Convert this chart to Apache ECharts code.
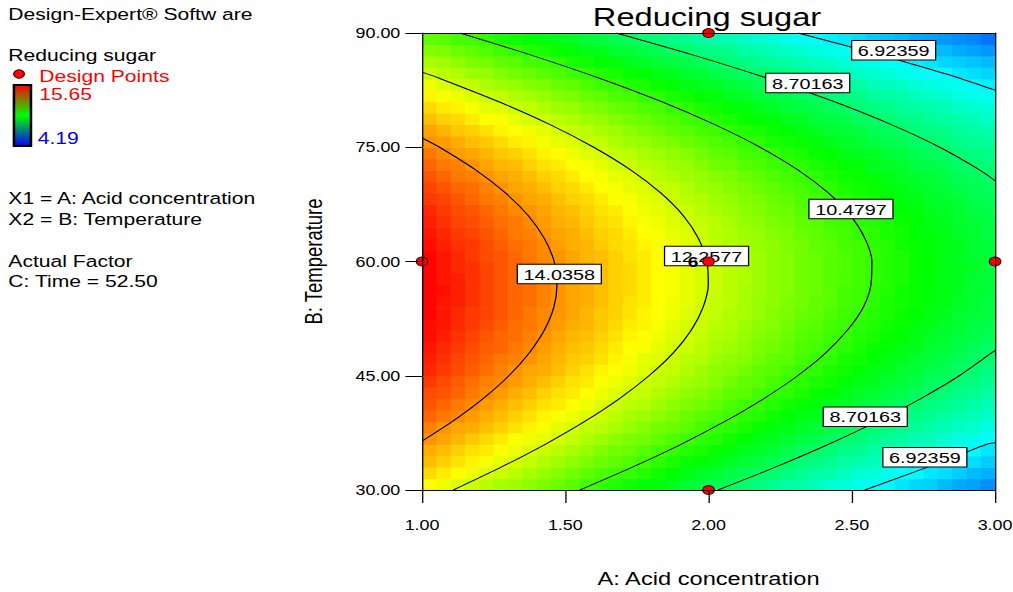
<!DOCTYPE html>
<html>
<head>
<meta charset="utf-8">
<title>Reducing sugar</title>
<script src="https://cdn.jsdelivr.net/npm/echarts@6.0.0/dist/echarts.min.js"></script>
<style>
  html, body { margin: 0; padding: 0; background: #ffffff; overflow: hidden; }
  #stage { width: 1013px; height: 592px; overflow: hidden; }
  /* Design-Expert exports are horizontally widened; the drawing is laid out narrow and stretched */
  #chart { width: 792px; height: 592px; transform: scaleX(1.279); transform-origin: 0 0; }
</style>
</head>
<body>
<div id="stage"><div id="chart"></div></div>
<script>
// ---- factor grid (cell centres) ----
const acidCenters = [1.025,1.075,1.125,1.175,1.225,1.275,1.325,1.375,1.425,1.475,
                     1.525,1.575,1.625,1.675,1.725,1.775,1.825,1.875,1.925,1.975,
                     2.025,2.075,2.125,2.175,2.225,2.275,2.325,2.375,2.425,2.475,
                     2.525,2.575,2.625,2.675,2.725,2.775,2.825,2.875,2.925,2.975];
const tempCenters = [30.75,32.25,33.75,35.25,36.75,38.25,39.75,41.25,42.75,44.25,
                     45.75,47.25,48.75,50.25,51.75,53.25,54.75,56.25,57.75,59.25,
                     60.75,62.25,63.75,65.25,66.75,68.25,69.75,71.25,72.75,74.25,
                     75.75,77.25,78.75,80.25,81.75,83.25,84.75,86.25,87.75,89.25];

// predicted reducing sugar, one row per temperature (low -> high), columns by acid concentration
const sugarGrid = [
  [12.8,12.6,12.4,12.2,12.0,11.8,11.7,11.5,11.3,11.1,10.9,10.7,10.5,10.3,10.1,9.9,9.8,9.6,9.4,9.2,9.0,8.9,8.7,8.5,8.3,8.1,8.0,7.8,7.6,7.5,7.3,7.1,7.0,6.8,6.6,6.5,6.3,6.1,6.0,5.8],
  [13.2,13.0,12.8,12.6,12.4,12.2,12.0,11.8,11.6,11.4,11.2,11.0,10.8,10.6,10.5,10.3,10.1,9.9,9.7,9.5,9.4,9.2,9.0,8.8,8.7,8.5,8.3,8.1,8.0,7.8,7.6,7.5,7.3,7.1,7.0,6.8,6.7,6.5,6.3,6.2],
  [13.5,13.3,13.1,12.9,12.7,12.5,12.3,12.1,11.9,11.7,11.5,11.3,11.1,11.0,10.8,10.6,10.4,10.2,10.0,9.9,9.7,9.5,9.3,9.2,9.0,8.8,8.6,8.5,8.3,8.1,8.0,7.8,7.6,7.5,7.3,7.1,7.0,6.8,6.7,6.5],
  [13.7,13.5,13.3,13.1,13.0,12.8,12.6,12.4,12.2,12.0,11.8,11.6,11.4,11.2,11.1,10.9,10.7,10.5,10.3,10.2,10.0,9.8,9.6,9.5,9.3,9.1,8.9,8.8,8.6,8.4,8.3,8.1,7.9,7.8,7.6,7.5,7.3,7.1,7.0,6.8],
  [14.0,13.8,13.6,13.4,13.2,13.0,12.8,12.6,12.5,12.3,12.1,11.9,11.7,11.5,11.3,11.2,11.0,10.8,10.6,10.4,10.3,10.1,9.9,9.7,9.6,9.4,9.2,9.1,8.9,8.7,8.6,8.4,8.2,8.1,7.9,7.8,7.6,7.4,7.3,7.1],
  [14.2,14.0,13.8,13.7,13.5,13.3,13.1,12.9,12.7,12.5,12.3,12.1,12.0,11.8,11.6,11.4,11.2,11.1,10.9,10.7,10.5,10.4,10.2,10.0,9.8,9.7,9.5,9.3,9.2,9.0,8.8,8.7,8.5,8.3,8.2,8.0,7.9,7.7,7.6,7.4],
  [14.5,14.3,14.1,13.9,13.7,13.5,13.3,13.1,12.9,12.7,12.6,12.4,12.2,12.0,11.8,11.7,11.5,11.3,11.1,10.9,10.8,10.6,10.4,10.3,10.1,9.9,9.7,9.6,9.4,9.3,9.1,8.9,8.8,8.6,8.4,8.3,8.1,8.0,7.8,7.7],
  [14.7,14.5,14.3,14.1,13.9,13.7,13.5,13.3,13.1,13.0,12.8,12.6,12.4,12.2,12.0,11.9,11.7,11.5,11.3,11.2,11.0,10.8,10.6,10.5,10.3,10.1,10.0,9.8,9.6,9.5,9.3,9.2,9.0,8.8,8.7,8.5,8.4,8.2,8.1,7.9],
  [14.8,14.7,14.5,14.3,14.1,13.9,13.7,13.5,13.3,13.1,13.0,12.8,12.6,12.4,12.2,12.1,11.9,11.7,11.5,11.4,11.2,11.0,10.9,10.7,10.5,10.4,10.2,10.0,9.9,9.7,9.5,9.4,9.2,9.1,8.9,8.7,8.6,8.4,8.3,8.1],
  [15.0,14.8,14.6,14.4,14.2,14.1,13.9,13.7,13.5,13.3,13.1,13.0,12.8,12.6,12.4,12.2,12.1,11.9,11.7,11.6,11.4,11.2,11.0,10.9,10.7,10.5,10.4,10.2,10.1,9.9,9.7,9.6,9.4,9.3,9.1,8.9,8.8,8.6,8.5,8.3],
  [15.2,15.0,14.8,14.6,14.4,14.2,14.0,13.8,13.7,13.5,13.3,13.1,12.9,12.8,12.6,12.4,12.2,12.1,11.9,11.7,11.5,11.4,11.2,11.0,10.9,10.7,10.5,10.4,10.2,10.1,9.9,9.7,9.6,9.4,9.3,9.1,9.0,8.8,8.7,8.5],
  [15.3,15.1,14.9,14.7,14.5,14.3,14.2,14.0,13.8,13.6,13.4,13.3,13.1,12.9,12.7,12.5,12.4,12.2,12.0,11.9,11.7,11.5,11.4,11.2,11.0,10.9,10.7,10.5,10.4,10.2,10.1,9.9,9.7,9.6,9.4,9.3,9.1,9.0,8.8,8.7],
  [15.4,15.2,15.0,14.8,14.6,14.5,14.3,14.1,13.9,13.7,13.5,13.4,13.2,13.0,12.8,12.7,12.5,12.3,12.2,12.0,11.8,11.7,11.5,11.3,11.2,11.0,10.8,10.7,10.5,10.4,10.2,10.0,9.9,9.7,9.6,9.4,9.3,9.1,9.0,8.8],
  [15.5,15.3,15.1,14.9,14.7,14.5,14.4,14.2,14.0,13.8,13.6,13.5,13.3,13.1,12.9,12.8,12.6,12.4,12.3,12.1,11.9,11.8,11.6,11.4,11.3,11.1,10.9,10.8,10.6,10.5,10.3,10.2,10.0,9.9,9.7,9.5,9.4,9.3,9.1,9.0],
  [15.5,15.4,15.2,15.0,14.8,14.6,14.4,14.3,14.1,13.9,13.7,13.6,13.4,13.2,13.0,12.9,12.7,12.5,12.3,12.2,12.0,11.9,11.7,11.5,11.4,11.2,11.0,10.9,10.7,10.6,10.4,10.3,10.1,10.0,9.8,9.7,9.5,9.4,9.2,9.1],
  [15.6,15.4,15.2,15.0,14.9,14.7,14.5,14.3,14.1,14.0,13.8,13.6,13.4,13.3,13.1,12.9,12.8,12.6,12.4,12.2,12.1,11.9,11.8,11.6,11.4,11.3,11.1,11.0,10.8,10.6,10.5,10.3,10.2,10.0,9.9,9.7,9.6,9.4,9.3,9.2],
  [15.6,15.4,15.3,15.1,14.9,14.7,14.5,14.4,14.2,14.0,13.8,13.7,13.5,13.3,13.1,13.0,12.8,12.6,12.5,12.3,12.1,12.0,11.8,11.6,11.5,11.3,11.2,11.0,10.9,10.7,10.6,10.4,10.2,10.1,10.0,9.8,9.7,9.5,9.4,9.2],
  [15.6,15.5,15.3,15.1,14.9,14.7,14.5,14.4,14.2,14.0,13.8,13.7,13.5,13.3,13.2,13.0,12.8,12.7,12.5,12.3,12.2,12.0,11.8,11.7,11.5,11.4,11.2,11.1,10.9,10.7,10.6,10.4,10.3,10.1,10.0,9.8,9.7,9.6,9.4,9.3],
  [15.6,15.4,15.3,15.1,14.9,14.7,14.5,14.4,14.2,14.0,13.8,13.7,13.5,13.3,13.2,13.0,12.8,12.7,12.5,12.3,12.2,12.0,11.9,11.7,11.5,11.4,11.2,11.1,10.9,10.8,10.6,10.5,10.3,10.2,10.0,9.9,9.7,9.6,9.4,9.3],
  [15.6,15.4,15.2,15.1,14.9,14.7,14.5,14.4,14.2,14.0,13.8,13.7,13.5,13.3,13.2,13.0,12.8,12.7,12.5,12.3,12.2,12.0,11.9,11.7,11.5,11.4,11.2,11.1,10.9,10.8,10.6,10.5,10.3,10.2,10.0,9.9,9.7,9.6,9.5,9.3],
  [15.6,15.4,15.2,15.0,14.8,14.7,14.5,14.3,14.1,14.0,13.8,13.6,13.5,13.3,13.1,13.0,12.8,12.6,12.5,12.3,12.1,12.0,11.8,11.7,11.5,11.4,11.2,11.1,10.9,10.8,10.6,10.5,10.3,10.2,10.0,9.9,9.7,9.6,9.4,9.3],
  [15.5,15.3,15.1,15.0,14.8,14.6,14.4,14.3,14.1,13.9,13.7,13.6,13.4,13.2,13.1,12.9,12.7,12.6,12.4,12.3,12.1,11.9,11.8,11.6,11.5,11.3,11.2,11.0,10.9,10.7,10.6,10.4,10.3,10.1,10.0,9.8,9.7,9.6,9.4,9.3],
  [15.4,15.2,15.0,14.9,14.7,14.5,14.3,14.2,14.0,13.8,13.7,13.5,13.3,13.2,13.0,12.8,12.7,12.5,12.4,12.2,12.0,11.9,11.7,11.6,11.4,11.3,11.1,11.0,10.8,10.7,10.5,10.4,10.2,10.1,9.9,9.8,9.7,9.5,9.4,9.2],
  [15.3,15.1,14.9,14.8,14.6,14.4,14.3,14.1,13.9,13.7,13.6,13.4,13.2,13.1,12.9,12.7,12.6,12.4,12.3,12.1,12.0,11.8,11.6,11.5,11.3,11.2,11.0,10.9,10.7,10.6,10.4,10.3,10.2,10.0,9.9,9.7,9.6,9.4,9.3,9.2],
  [15.2,15.0,14.8,14.7,14.5,14.3,14.1,14.0,13.8,13.6,13.5,13.3,13.1,13.0,12.8,12.6,12.5,12.3,12.2,12.0,11.8,11.7,11.5,11.4,11.2,11.1,10.9,10.8,10.6,10.5,10.3,10.2,10.1,9.9,9.8,9.6,9.5,9.4,9.2,9.1],
  [15.0,14.9,14.7,14.5,14.3,14.2,14.0,13.8,13.7,13.5,13.3,13.2,13.0,12.8,12.7,12.5,12.4,12.2,12.0,11.9,11.7,11.6,11.4,11.3,11.1,11.0,10.8,10.7,10.5,10.4,10.2,10.1,9.9,9.8,9.7,9.5,9.4,9.3,9.1,9.0],
  [14.9,14.7,14.5,14.4,14.2,14.0,13.8,13.7,13.5,13.3,13.2,13.0,12.8,12.7,12.5,12.4,12.2,12.1,11.9,11.7,11.6,11.4,11.3,11.1,11.0,10.8,10.7,10.5,10.4,10.2,10.1,10.0,9.8,9.7,9.5,9.4,9.3,9.1,9.0,8.9],
  [14.7,14.5,14.3,14.2,14.0,13.8,13.7,13.5,13.3,13.2,13.0,12.8,12.7,12.5,12.4,12.2,12.0,11.9,11.7,11.6,11.4,11.3,11.1,11.0,10.8,10.7,10.5,10.4,10.2,10.1,10.0,9.8,9.7,9.5,9.4,9.3,9.1,9.0,8.9,8.7],
  [14.5,14.3,14.2,14.0,13.8,13.6,13.5,13.3,13.1,13.0,12.8,12.7,12.5,12.3,12.2,12.0,11.9,11.7,11.6,11.4,11.2,11.1,10.9,10.8,10.6,10.5,10.4,10.2,10.1,9.9,9.8,9.6,9.5,9.4,9.2,9.1,9.0,8.8,8.7,8.6],
  [14.3,14.1,13.9,13.8,13.6,13.4,13.3,13.1,12.9,12.8,12.6,12.4,12.3,12.1,12.0,11.8,11.7,11.5,11.4,11.2,11.0,10.9,10.7,10.6,10.5,10.3,10.2,10.0,9.9,9.7,9.6,9.5,9.3,9.2,9.0,8.9,8.8,8.6,8.5,8.4],
  [14.0,13.9,13.7,13.5,13.4,13.2,13.0,12.9,12.7,12.5,12.4,12.2,12.1,11.9,11.7,11.6,11.4,11.3,11.1,11.0,10.8,10.7,10.5,10.4,10.2,10.1,10.0,9.8,9.7,9.5,9.4,9.2,9.1,9.0,8.8,8.7,8.6,8.4,8.3,8.2],
  [13.8,13.6,13.4,13.3,13.1,12.9,12.8,12.6,12.5,12.3,12.1,12.0,11.8,11.7,11.5,11.3,11.2,11.0,10.9,10.7,10.6,10.4,10.3,10.2,10.0,9.9,9.7,9.6,9.4,9.3,9.2,9.0,8.9,8.8,8.6,8.5,8.4,8.2,8.1,8.0],
  [13.5,13.3,13.2,13.0,12.8,12.7,12.5,12.3,12.2,12.0,11.9,11.7,11.6,11.4,11.2,11.1,10.9,10.8,10.6,10.5,10.3,10.2,10.0,9.9,9.8,9.6,9.5,9.3,9.2,9.1,8.9,8.8,8.6,8.5,8.4,8.2,8.1,8.0,7.9,7.7],
  [13.2,13.0,12.9,12.7,12.5,12.4,12.2,12.1,11.9,11.7,11.6,11.4,11.3,11.1,11.0,10.8,10.7,10.5,10.4,10.2,10.1,9.9,9.8,9.6,9.5,9.3,9.2,9.1,8.9,8.8,8.6,8.5,8.4,8.2,8.1,8.0,7.9,7.7,7.6,7.5],
  [12.9,12.7,12.6,12.4,12.2,12.1,11.9,11.8,11.6,11.4,11.3,11.1,11.0,10.8,10.7,10.5,10.4,10.2,10.1,9.9,9.8,9.6,9.5,9.3,9.2,9.1,8.9,8.8,8.6,8.5,8.4,8.2,8.1,8.0,7.8,7.7,7.6,7.4,7.3,7.2],
  [12.6,12.4,12.2,12.1,11.9,11.7,11.6,11.4,11.3,11.1,11.0,10.8,10.6,10.5,10.3,10.2,10.0,9.9,9.7,9.6,9.5,9.3,9.2,9.0,8.9,8.7,8.6,8.5,8.3,8.2,8.1,7.9,7.8,7.7,7.5,7.4,7.3,7.2,7.0,6.9],
  [12.2,12.0,11.9,11.7,11.6,11.4,11.2,11.1,10.9,10.8,10.6,10.5,10.3,10.2,10.0,9.9,9.7,9.6,9.4,9.3,9.1,9.0,8.8,8.7,8.6,8.4,8.3,8.1,8.0,7.9,7.7,7.6,7.5,7.3,7.2,7.1,7.0,6.8,6.7,6.6],
  [11.8,11.7,11.5,11.3,11.2,11.0,10.9,10.7,10.6,10.4,10.2,10.1,9.9,9.8,9.6,9.5,9.3,9.2,9.1,8.9,8.8,8.6,8.5,8.3,8.2,8.1,7.9,7.8,7.7,7.5,7.4,7.3,7.1,7.0,6.9,6.8,6.6,6.5,6.4,6.3],
  [11.4,11.3,11.1,11.0,10.8,10.6,10.5,10.3,10.2,10.0,9.9,9.7,9.6,9.4,9.3,9.1,9.0,8.8,8.7,8.5,8.4,8.3,8.1,8.0,7.8,7.7,7.6,7.4,7.3,7.2,7.0,6.9,6.8,6.6,6.5,6.4,6.3,6.1,6.0,5.9],
  [11.0,10.9,10.7,10.6,10.4,10.2,10.1,9.9,9.8,9.6,9.5,9.3,9.2,9.0,8.9,8.7,8.6,8.4,8.3,8.1,8.0,7.9,7.7,7.6,7.5,7.3,7.2,7.1,6.9,6.8,6.7,6.5,6.4,6.3,6.1,6.0,5.9,5.8,5.7,5.5]
];

const responseRange = [4.19, 15.65];
const acidTicks = [1.0, 1.5, 2.0, 2.5, 3.0];
const tempTicks = [30, 45, 60, 75, 90];

// contour levels and traced iso-lines [acid, temperature]
const contourLevels = [6.92359, 8.70163, 10.4797, 12.2577, 14.0358];
const contour14 = [[1.000,36.42],[1.106,39],[1.213,42],[1.303,45],[1.374,48],[1.427,51],[1.460,54],[1.471,57],
                   [1.461,60],[1.427,63],[1.371,66],[1.291,69],[1.188,72],[1.061,75],[1.000,76.22]];
const contour12 = [[1.109,30],[1.276,33],[1.430,36],[1.568,39],[1.689,42],[1.792,45],[1.877,48],[1.940,51],
                   [1.981,54],[1.999,57],[1.994,60],[1.965,63],[1.912,66],[1.833,69],[1.729,72],[1.599,75],
                   [1.445,78],[1.266,81],[1.064,84],[1.000,84.86]];
const contour10 = [[1.551,30],[1.734,33],[1.904,36],[2.057,39],[2.193,42],[2.311,45],[2.409,48],[2.485,51],
                   [2.540,54],[2.567,57],[2.570,60],[2.546,63],[2.496,66],[2.418,69],[2.313,72],[2.180,75],
                   [2.020,78],[1.835,81],[1.624,84],[1.389,87],[1.132,90]];
const contour8Low  = [[2.033,30],[2.233,33],[2.419,36],[2.589,39],[2.741,42],[2.875,45],[2.988,48],[3.000,48.3]];
const contour8High = [[1.677,90],[1.956,87],[2.210,84],[2.437,81],[2.636,78],[2.807,75],[2.947,72],[3.000,70.6]];
const contour6Low  = [[2.545,30],[2.656,31.5],[2.764,33],[2.869,34.5],[2.971,36],[3.000,36.2]];
const contour6High = [[2.312,90],[2.464,88.5],[2.610,87],[2.749,85.5],[2.882,84],[3.000,82.5]];

// where each level label sits: [acid, temperature, level index]
const labelAnchors = [[2.646,87.73,0],[2.346,83.43,1],[2.497,66.89,2],[1.993,60.72,3],
                      [1.479,58.36,4],[2.547,39.62,1],[2.755,34.31,0]];

// design points [acid, temperature]; the centre point was run 6 times
const designPoints = [[1,60],[2,90],[2,60],[3,60],[2,30]];
const centerRuns = 6;

// ---- build series data ----
const FONT = '"Liberation Sans", Arial, Helvetica, sans-serif';
const heatData = [];
tempCenters.forEach((t, i) => {
  acidCenters.forEach((a, j) => heatData.push([a, t, sugarGrid[i][j]]));
});
const halfA = (acidCenters[1] - acidCenters[0]) / 2;
const halfT = (tempCenters[1] - tempCenters[0]) / 2;

const pointData = designPoints.map(p => {
  if (p[0] === 2 && p[1] === 60) {
    return {
      value: p,
      label: { show: true, formatter: String(centerRuns), position: 'left', distance: 3,
               fontSize: 15, fontWeight: 'bold', color: '#000', fontFamily: FONT }
    };
  }
  return { value: p };
});

const contourLine = d => ({
  type: 'line', data: d, symbol: 'none', smooth: 0.3, silent: true, z: 3,
  lineStyle: { color: '#000', width: 1 }
});

const BOX_W = 65.7, BOX_H = 19.5;

const chart = echarts.init(document.getElementById('chart'), null, { renderer: 'svg', width: 792, height: 592 });

chart.setOption({
  animation: false,
  backgroundColor: '#ffffff',
  textStyle: { fontFamily: FONT },
  grid: { left: 330, top: 33, width: 448, height: 457, containLabel: false, outerBoundsMode: 'none' },
  visualMap: {
    show: false, type: 'continuous', seriesIndex: 0, dimension: 2,
    min: responseRange[0], max: responseRange[1],
    inRange: { color: ['#0000ff', '#00ffff', '#00ff00', '#ffff00', '#ff0000'] }
  },
  xAxis: [{
    type: 'value', min: acidTicks[0], max: acidTicks[acidTicks.length - 1],
    interval: acidTicks[1] - acidTicks[0], z: 10,
    name: 'A: Acid concentration', nameLocation: 'middle', nameGap: 79,
    nameTextStyle: { fontSize: 18.5, color: '#000', fontFamily: FONT },
    axisLine: { show: true, onZero: false, lineStyle: { color: '#000', width: 1 } },
    axisTick: { show: true, length: 13, lineStyle: { color: '#000', width: 1 } },
    axisLabel: { margin: 28, fontSize: 14, color: '#000', fontFamily: FONT,
                 formatter: v => v.toFixed(2) },
    splitLine: { show: false }
  }, {
    type: 'value', position: 'top', min: acidTicks[0], max: acidTicks[acidTicks.length - 1], z: 10,
    axisLine: { show: true, onZero: false, lineStyle: { color: '#000', width: 1 } },
    axisTick: { show: false }, axisLabel: { show: false }, splitLine: { show: false }
  }],
  yAxis: [{
    type: 'value', min: tempTicks[0], max: tempTicks[tempTicks.length - 1],
    interval: tempTicks[1] - tempTicks[0], z: 10,
    name: 'B: Temperature', nameLocation: 'middle', nameGap: 75, nameRotate: 90,
    nameTextStyle: { fontSize: 18.5, color: '#000', fontFamily: FONT },
    axisLine: { show: true, onZero: false, lineStyle: { color: '#000', width: 1 } },
    axisTick: { show: true, length: 13, lineStyle: { color: '#000', width: 1 } },
    axisLabel: { margin: 17, fontSize: 14, color: '#000', fontFamily: FONT,
                 formatter: v => v.toFixed(2) },
    splitLine: { show: false }
  }, {
    type: 'value', position: 'right', min: tempTicks[0], max: tempTicks[tempTicks.length - 1], z: 10,
    axisLine: { show: true, onZero: false, lineStyle: { color: '#000', width: 1 } },
    axisTick: { show: false }, axisLabel: { show: false }, splitLine: { show: false }
  }],
  series: [
    {
      // response surface cells
      type: 'custom', name: 'Reducing sugar', data: heatData, silent: true, clip: true, z: 1,
      encode: { x: 0, y: 1 },
      renderItem: (params, api) => {
        const a = api.value(0), t = api.value(1);
        const tl = api.coord([a - halfA, t + halfT]);
        const br = api.coord([a + halfA, t - halfT]);
        return {
          type: 'rect',
          shape: { x: tl[0], y: tl[1], width: br[0] - tl[0] + 0.6, height: br[1] - tl[1] + 0.6 },
          style: { fill: api.visual('color'), stroke: null }
        };
      }
    },
    contourLine(contour14),
    contourLine(contour12),
    contourLine(contour10),
    contourLine(contour8Low),
    contourLine(contour8High),
    contourLine(contour6Low),
    contourLine(contour6High),
    {
      // level labels in white boxes
      type: 'custom', data: labelAnchors, silent: true, z: 4,
      encode: { x: 0, y: 1 },
      renderItem: (params, api) => {
        const p = api.coord([api.value(0), api.value(1)]);
        const txt = String(contourLevels[api.value(2)]);
        return {
          type: 'group',
          children: [
            { type: 'rect',
              shape: { x: p[0] - BOX_W / 2, y: p[1] - BOX_H / 2, width: BOX_W, height: BOX_H },
              style: { fill: '#ffffff', stroke: '#000', lineWidth: 1 } },
            { type: 'text', x: p[0], y: p[1] + 0.5,
              style: { text: txt, fill: '#000', fontSize: 15.5, fontFamily: FONT,
                       textAlign: 'center', textVerticalAlign: 'middle' } }
          ]
        };
      }
    },
    {
      type: 'scatter', name: 'Design Points', data: pointData, z: 6, silent: true,
      symbol: 'circle', symbolSize: 9,
      itemStyle: { color: '#ff0000', borderColor: '#5a0000', borderWidth: 1, opacity: 1 }
    }
  ],
  graphic: [
    { type: 'text', x: 552.8, y: 17, silent: true,
      style: { text: 'Reducing sugar', fill: '#000', fontSize: 25.5, fontFamily: FONT,
               textAlign: 'center', textVerticalAlign: 'middle' } },
    { type: 'text', x: 6.5, y: 14.5, silent: true,
      style: { text: 'Design-Expert® Softw are', fill: '#000', fontSize: 16.5, fontFamily: FONT,
               textAlign: 'left', textVerticalAlign: 'middle' } },
    { type: 'text', x: 6.5, y: 55, silent: true,
      style: { text: 'Reducing sugar', fill: '#000', fontSize: 16.5, fontFamily: FONT,
               textAlign: 'left', textVerticalAlign: 'middle' } },
    { type: 'circle', silent: true, shape: { cx: 14.9, cy: 74, r: 4.2 },
      style: { fill: '#ff0000', stroke: '#3a0000', lineWidth: 1 } },
    { type: 'text', x: 30.7, y: 76.5, silent: true,
      style: { text: 'Design Points', fill: '#ff0000', fontSize: 16.5, fontFamily: FONT,
               textAlign: 'left', textVerticalAlign: 'middle' } },
    { type: 'rect', silent: true, shape: { x: 10.9, y: 85, width: 13.3, height: 61 },
      style: {
        fill: new echarts.graphic.LinearGradient(0, 0, 0, 1, [
          { offset: 0, color: '#ff0000' }, { offset: 0.5, color: '#00ff00' }, { offset: 1, color: '#0000ff' }
        ]),
        stroke: '#000', lineWidth: 2
      } },
    { type: 'text', x: 30.7, y: 94, silent: true,
      style: { text: responseRange[1].toFixed(2), fill: '#ff0000', fontSize: 16.5, fontFamily: FONT,
               textAlign: 'left', textVerticalAlign: 'middle' } },
    { type: 'text', x: 29.5, y: 138, silent: true,
      style: { text: responseRange[0].toFixed(2), fill: '#0000ff', fontSize: 16.5, fontFamily: FONT,
               textAlign: 'left', textVerticalAlign: 'middle' } },
    { type: 'text', x: 6.5, y: 198.5, silent: true,
      style: { text: 'X1 = A: Acid concentration', fill: '#000', fontSize: 16.5, fontFamily: FONT,
               textAlign: 'left', textVerticalAlign: 'middle' } },
    { type: 'text', x: 6.5, y: 219.5, silent: true,
      style: { text: 'X2 = B: Temperature', fill: '#000', fontSize: 16.5, fontFamily: FONT,
               textAlign: 'left', textVerticalAlign: 'middle' } },
    { type: 'text', x: 6.5, y: 261.7, silent: true,
      style: { text: 'Actual Factor', fill: '#000', fontSize: 16.5, fontFamily: FONT,
               textAlign: 'left', textVerticalAlign: 'middle' } },
    { type: 'text', x: 6.5, y: 281, silent: true,
      style: { text: 'C: Time = 52.50', fill: '#000', fontSize: 16.5, fontFamily: FONT,
               textAlign: 'left', textVerticalAlign: 'middle' } }
  ]
});
</script>
</body>
</html>
